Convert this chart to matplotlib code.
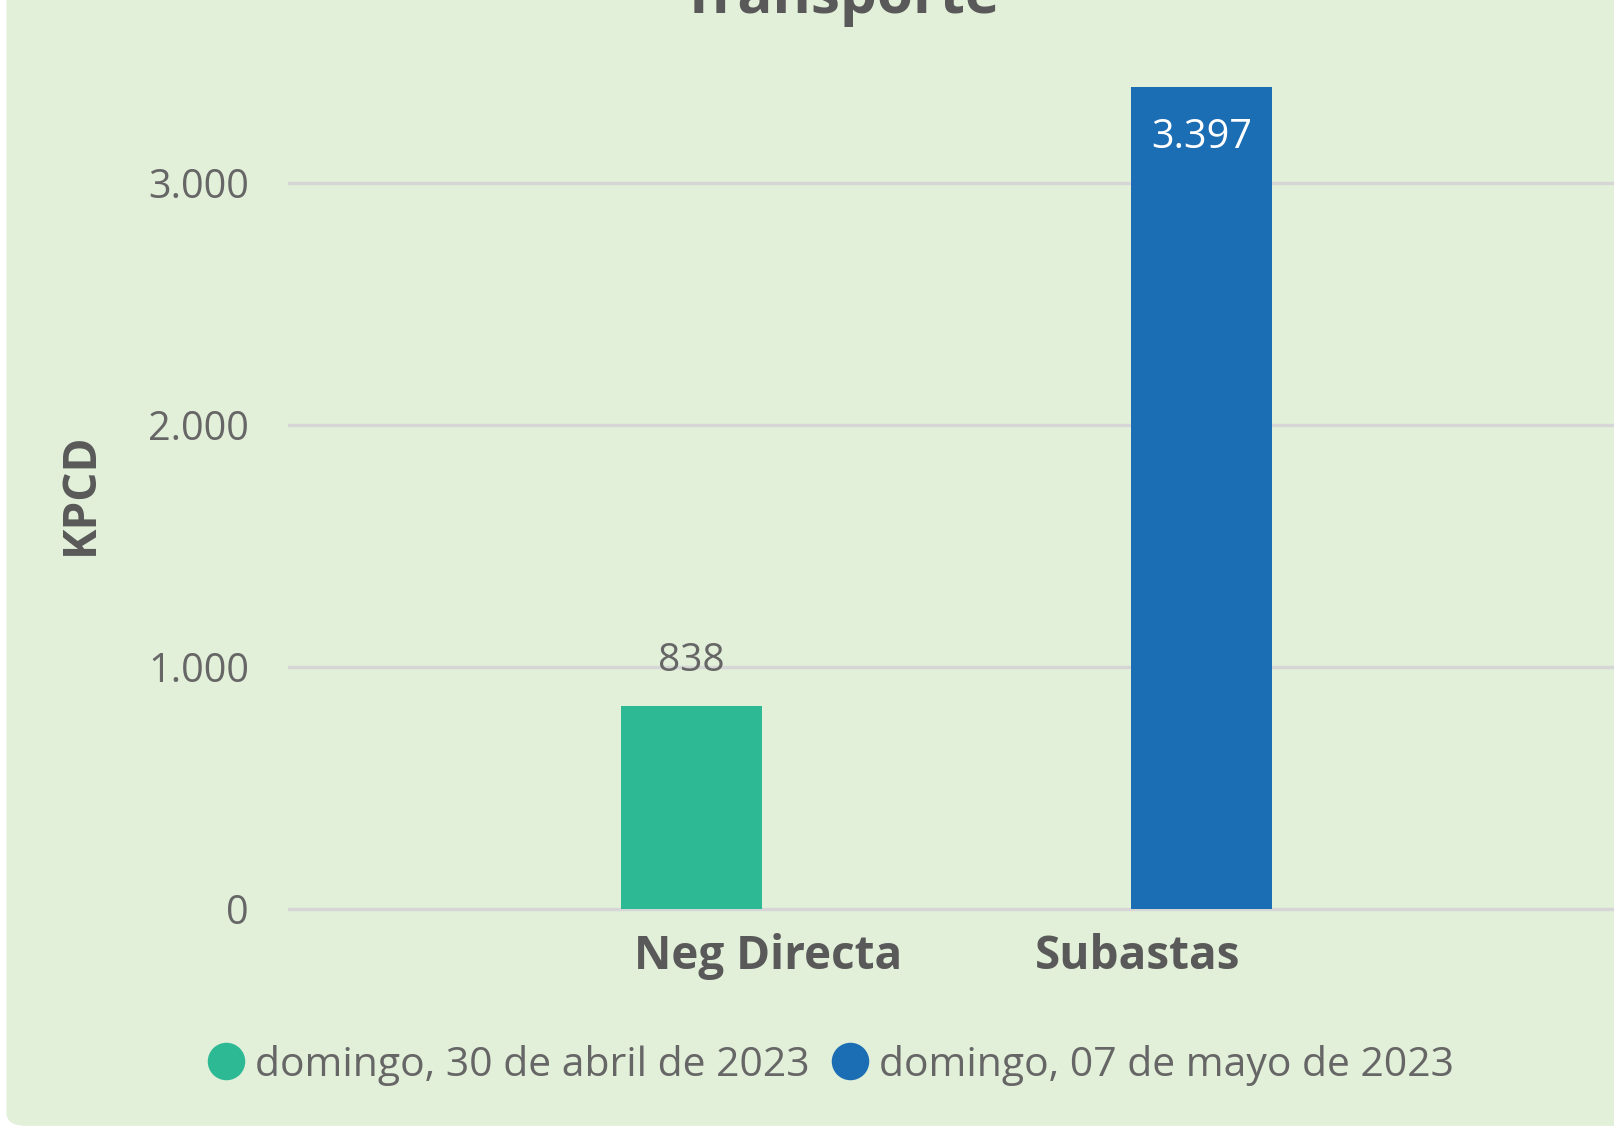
import numpy as np
import matplotlib
matplotlib.use('Agg')
import matplotlib.pyplot as plt
import matplotlib.transforms as mtransforms
from matplotlib.patches import FancyBboxPatch
from matplotlib.ticker import FuncFormatter

# data
categories = ['Neg Directa', 'Subastas']
series_names = ['domingo, 30 de abril de 2023', 'domingo, 07 de mayo de 2023']
abril_30 = [838, np.nan]
mayo_07 = [np.nan, 3397]
y_ticks = [0, 1000, 2000, 3000]

green = '#2cb994'
blue = '#1b6db4'
bg = '#e2efd9'
dark = '#595959'
grey = '#666666'

plt.rcParams['font.family'] = ['Open Sans', 'DejaVu Sans']

fig = plt.figure(figsize=(16.14, 11.27), dpi=100)
fig.patch.set_facecolor('white')
panel = FancyBboxPatch((0.004, 0.001), 1.2, 1.1, boxstyle='round,pad=0,rounding_size=0.012',
                       transform=fig.transFigure, facecolor=bg, edgecolor='none', zorder=-5)
fig.patches.append(panel)

# y=0 sits a little above the axes bottom so the zero gridline is not clipped
ax = fig.add_axes([0.1784, 0.1872, 0.8216, 0.8128])
ax.set_facecolor('none')

x = np.arange(len(categories))
w = 0.38
b1 = ax.bar(x - w / 2, abril_30, w, color=green, zorder=3)
b2 = ax.bar(x + w / 2, mayo_07, w, color=blue, zorder=3)

# value labels
for rect, v in zip(b1, abril_30):
    if not np.isnan(v):
        ax.text(rect.get_x() + rect.get_width() / 2, v + 185, f'{v:,.0f}'.replace(',', '.'),
                ha='center', va='center', fontsize=28, color=grey)
for rect, v in zip(b2, mayo_07):
    if not np.isnan(v):
        ax.text(rect.get_x() + rect.get_width() / 2, v - 212, f'{v:,.0f}'.replace(',', '.'),
                ha='center', va='center', fontsize=28.5, color='white')

ax.set_xlim(-1.283, 2.307)
ax.set_ylim(-30, 3756)
ax.set_yticks(y_ticks)
ax.yaxis.set_major_formatter(FuncFormatter(lambda v, p: f'{v:,.0f}'.replace(',', '.')))
ax.grid(axis='y', color='#d6d6d6', linewidth=2.4, zorder=0)
ax.set_axisbelow(True)
for s in ax.spines.values():
    s.set_visible(False)
ax.tick_params(axis='y', length=0, pad=28, labelsize=28.5, labelcolor=grey)
ax.set_xticks(x)
ax.set_xticklabels(categories, fontsize=33, fontweight='bold', color=dark)
ax.tick_params(axis='x', length=0, pad=12)
shift = mtransforms.ScaledTranslation(6 / 100, 0, fig.dpi_scale_trans)
for lab in ax.get_xticklabels():
    lab.set_transform(lab.get_transform() + shift)

fig.text(80 / 1614, 1 - 494 / 1127, 'KPCD', rotation=90, ha='center', va='center',
         fontsize=33, fontweight='bold', color=dark)

# title, cut off at the top edge like the reference
fig.text(841 / 1614, 1 - 13 / 1127, 'Transporte', ha='center', va='baseline',
         fontsize=42, fontweight='bold', color=dark)

# legend
handles = [plt.Line2D([], [], marker='o', linestyle='none', markersize=27,
                      markerfacecolor=c, markeredgecolor='none') for c in (green, blue)]
fig.legend(handles, series_names, loc='center', bbox_to_anchor=(831 / 1614, 1 - 1065 / 1127),
           ncol=2, frameon=False, fontsize=29.4, labelcolor=grey, handletextpad=0.25,
           columnspacing=0.55, handlelength=0.9)

fig.savefig('out.png', dpi=100, facecolor=fig.get_facecolor())
